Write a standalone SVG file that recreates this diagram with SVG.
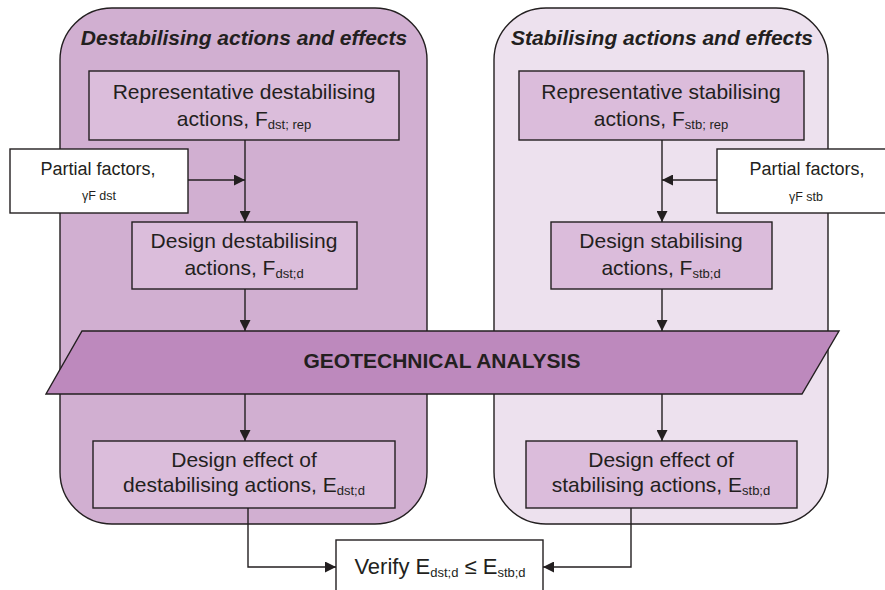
<svg xmlns="http://www.w3.org/2000/svg" width="885" height="590" viewBox="0 0 885 590">
<defs>
<style>
.ln{stroke:#231f20;stroke-width:1.4;fill:none}
.bx{stroke:#231f20;stroke-width:1.4}
.t{font-family:"Liberation Sans",Arial,sans-serif;font-size:21px;fill:#231f20;text-anchor:middle}
.s{font-size:13px}
.v{font-size:22px}
.pf{font-family:"Liberation Sans",Arial,sans-serif;font-size:18px;fill:#231f20;text-anchor:middle}
.g{font-family:"Liberation Sans",Arial,sans-serif;font-size:12.5px;fill:#231f20;text-anchor:middle}
.h{font-family:"Liberation Sans",Arial,sans-serif;font-size:21px;font-weight:bold;font-style:italic;fill:#231f20;text-anchor:middle}
.geo{font-family:"Liberation Sans",Arial,sans-serif;font-size:21px;font-weight:bold;fill:#231f20;text-anchor:middle}
</style>
<marker id="ah" viewBox="0 0 10 10" refX="10" refY="5" markerWidth="11" markerHeight="11" markerUnits="userSpaceOnUse" orient="auto">
<path d="M0,0 L10,5 L0,10 Z" fill="#231f20"/>
</marker>
</defs>
<rect width="885" height="590" fill="#ffffff"/>

<g id="container-dst">
<rect class="bx" x="60" y="8" width="367" height="516" rx="52" ry="52" fill="#d1afd1"/>
<text class="h" x="244" y="45">Destabilising actions and effects</text>
</g>
<g id="container-stb">
<rect class="bx" x="494" y="8" width="334" height="516" rx="52" ry="52" fill="#ede1ee"/>
<text class="h" x="662" y="45">Stabilising actions and effects</text>
</g>

<g id="connectors">
<line class="ln" x1="245" y1="140" x2="245" y2="222" marker-end="url(#ah)"/>
<line class="ln" x1="188" y1="180" x2="245" y2="180" marker-end="url(#ah)"/>
<line class="ln" x1="245" y1="289" x2="245" y2="331" marker-end="url(#ah)"/>
<line class="ln" x1="245" y1="394" x2="245" y2="441" marker-end="url(#ah)"/>
<polyline class="ln" points="248,508 248,567 336,567" marker-end="url(#ah)"/>
<line class="ln" x1="662" y1="140" x2="662" y2="222" marker-end="url(#ah)"/>
<line class="ln" x1="717" y1="180" x2="662" y2="180" marker-end="url(#ah)"/>
<line class="ln" x1="662" y1="289" x2="662" y2="331" marker-end="url(#ah)"/>
<line class="ln" x1="662" y1="394" x2="662" y2="441" marker-end="url(#ah)"/>
<polyline class="ln" points="631,508 631,567 543,567" marker-end="url(#ah)"/>
</g>

<g id="rep-dst">
<rect class="bx" x="89" y="71" width="310" height="69" fill="#dbbddb"/>
<text class="t" x="244" y="99">Representative destabilising</text>
<text class="t" x="244" y="126">actions, F<tspan class="s" dy="3">dst; rep</tspan></text>
</g>
<g id="pf-dst">
<rect class="bx" x="10" y="149" width="178" height="64" fill="#ffffff"/>
<text class="pf" x="98" y="175">Partial factors,</text>
<text class="g" x="99" y="200">γF dst</text>
</g>
<g id="design-dst">
<rect class="bx" x="132" y="222" width="225" height="67" fill="#dbbddb"/>
<text class="t" x="244" y="248">Design destabilising</text>
<text class="t" x="244" y="275">actions, F<tspan class="s" dy="3">dst;d</tspan></text>
</g>

<g id="rep-stb">
<rect class="bx" x="519" y="71" width="285" height="69" fill="#dbbcdb"/>
<text class="t" x="661" y="99">Representative stabilising</text>
<text class="t" x="661" y="126">actions, F<tspan class="s" dy="3">stb; rep</tspan></text>
</g>
<g id="pf-stb">
<rect class="bx" x="717" y="149" width="180" height="64" fill="#ffffff"/>
<text class="pf" x="807" y="175">Partial factors,</text>
<text class="g" x="806" y="201">γF stb</text>
</g>
<g id="design-stb">
<rect class="bx" x="551" y="222" width="221" height="67" fill="#dbbcdb"/>
<text class="t" x="661" y="248">Design stabilising</text>
<text class="t" x="661" y="275">actions, F<tspan class="s" dy="3">stb;d</tspan></text>
</g>

<g id="geo">
<polygon class="bx" points="82,331 839,331 802,394 46,394" fill="#bd89bd"/>
<text class="geo" x="442" y="368">GEOTECHNICAL ANALYSIS</text>
</g>

<g id="effect-dst">
<rect class="bx" x="93" y="441" width="302" height="67" fill="#dbbddb"/>
<text class="t" x="244" y="467">Design effect of</text>
<text class="t" x="244" y="492">destabilising actions, E<tspan class="s" dy="3">dst;d</tspan></text>
</g>
<g id="effect-stb">
<rect class="bx" x="526" y="441" width="271" height="67" fill="#dbbcdb"/>
<text class="t" x="661" y="467">Design effect of</text>
<text class="t" x="661" y="492">stabilising actions, E<tspan class="s" dy="3">stb;d</tspan></text>
</g>

<g id="verify">
<rect class="bx" x="336" y="540" width="207" height="70" fill="#ffffff"/>
<text class="t v" x="440" y="574">Verify E<tspan class="s" dy="3">dst;d</tspan><tspan dy="-3"> ≤ E</tspan><tspan class="s" dy="3">stb;d</tspan></text>
</g>
</svg>
